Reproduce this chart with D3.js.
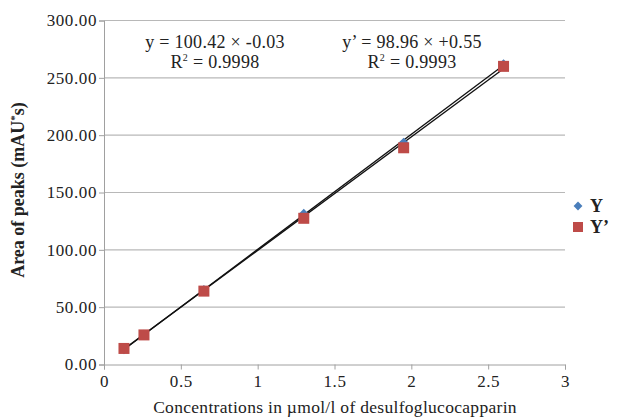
<!DOCTYPE html>
<html>
<head>
<meta charset="utf-8">
<script src="https://cdn.jsdelivr.net/npm/d3@7"></script>
<style>
  body { margin: 0; background: #fff; }
  svg text { font-family: "Times New Roman", "Liberation Serif", Times, serif; }
</style>
</head>
<body>
<div id="chart"></div>
<script>
// concentrations (x) and peak areas for the two series
var conc = [0.13, 0.26, 0.65, 1.3, 1.95, 2.6];
var seriesY = [13.1, 26.0, 65.0, 131.5, 193.5, 262.0];
var seriesY2 = [14.0, 25.8, 64.0, 127.5, 189.0, 260.0];
// trendline coefficients printed on the chart
var slopes = [100.42, 98.96];
var intercepts = [-0.03, 0.55];
var xTicks = [0, 0.5, 1, 1.5, 2, 2.5, 3];
var yTicks = [0, 50, 100, 150, 200, 250, 300];

var serif = "Times New Roman, Liberation Serif, serif";

function init() {
    var w = 626, h = 419;
    var svg = d3.select("#chart").append("svg")
        .attr("width", w)
        .attr("height", h)
        .attr("font-family", serif);

    var x = d3.scaleLinear().domain([0, 3]).range([104, 565]);
    var y = d3.scaleLinear().domain([0, 300]).range([364.5, 20.5]);

    // gridlines
    svg.append("g").selectAll("line")
        .data(yTicks.slice(1))
        .enter().append("line")
        .attr("x1", x(0)).attr("x2", x(3))
        .attr("y1", function (d) { return y(d); })
        .attr("y2", function (d) { return y(d); })
        .attr("stroke", "#b8b8b8").attr("stroke-width", 1.2);

    // axes
    var yAxis = svg.append("g")
        .attr("transform", "translate(" + x(0) + ",0)")
        .call(d3.axisLeft(y).tickValues(yTicks).tickSize(5).tickPadding(2)
            .tickFormat(d3.format(".2f")));
    var xAxis = svg.append("g")
        .attr("transform", "translate(0," + y(0) + ")")
        .call(d3.axisBottom(x).tickValues(xTicks).tickSize(5).tickPadding(3)
            .tickFormat(function (d) { return d; }));
    [yAxis, xAxis].forEach(function (a) {
        a.attr("font-family", serif).attr("font-size", 17);
        a.select(".domain").attr("stroke", "#a0a0a0");
        a.selectAll(".tick line").attr("stroke", "#a0a0a0");
        a.selectAll("text")
            .attr("font-family", serif).attr("font-size", 17)
            .attr("letter-spacing", 0.6).attr("fill", "#222");
    });
    xAxis.selectAll("text").attr("dy", "0.85em");

    // trendlines over the data range
    var xMin = d3.min(conc), xMax = d3.max(conc);
    slopes.forEach(function (m, i) {
        var b = intercepts[i];
        svg.append("line")
            .attr("x1", x(xMin)).attr("y1", y(m * xMin + b))
            .attr("x2", x(xMax)).attr("y2", y(m * xMax + b))
            .attr("stroke", "#111").attr("stroke-width", 1.3);
    });

    // Y series: blue diamonds
    svg.append("g").selectAll("path")
        .data(conc)
        .enter().append("path")
        .attr("d", d3.symbol().type(d3.symbolDiamond2).size(60))
        .attr("transform", function (d, i) {
            return "translate(" + x(d) + "," + y(seriesY[i]) + ")";
        })
        .attr("fill", "#4a7ebb");

    // Y' series: red squares
    svg.append("g").selectAll("rect")
        .data(conc)
        .enter().append("rect")
        .attr("x", function (d) { return x(d) - 5.5; })
        .attr("y", function (d, i) { return y(seriesY2[i]) - 5.5; })
        .attr("width", 11).attr("height", 11)
        .attr("fill", "#be4b48");

    function txt(xp, yp, size) {
        return svg.append("text").attr("x", xp).attr("y", yp)
            .attr("font-family", serif).attr("font-size", size).attr("fill", "#222");
    }

    // equations
    var eq = [
        { cx: 215, l1: "y = 100.42 \u00d7 -0.03", r: "0.9998" },
        { cx: 412, l1: "y\u2019 = 98.96 \u00d7 +0.55", r: "0.9993" }
    ];
    eq.forEach(function (e) {
        txt(e.cx, 48, 18).attr("text-anchor", "middle").attr("letter-spacing", 0.3).text(e.l1);
        var t = txt(e.cx, 68, 18).attr("text-anchor", "middle").attr("letter-spacing", 0.3);
        t.append("tspan").text("R");
        t.append("tspan").attr("dy", -7).attr("font-size", 10).text("2");
        t.append("tspan").attr("dy", 7).text(" = " + e.r);
    });

    // legend
    svg.append("path")
        .attr("d", d3.symbol().type(d3.symbolDiamond2).size(50))
        .attr("transform", "translate(578,206)")
        .attr("fill", "#4a7ebb");
    svg.append("rect").attr("x", 573).attr("y", 222).attr("width", 10).attr("height", 10)
        .attr("fill", "#be4b48");
    txt(590, 212, 18).attr("font-weight", "bold").text("Y");
    txt(590, 233, 18).attr("font-weight", "bold").text("Y\u2019");

    // axis titles
    txt(335, 413, 17.5).attr("text-anchor", "middle").attr("letter-spacing", 0.3)
        .text("Concentrations in \u00b5mol/l of desulfoglucocapparin");
    var yt = svg.append("text")
        .attr("transform", "translate(24,190) rotate(-90)")
        .attr("font-family", serif).attr("font-size", 18).attr("fill", "#222")
        .attr("text-anchor", "middle").attr("font-weight", "bold");
    yt.append("tspan").text("Area of peaks (mAU");
    yt.append("tspan").attr("dy", -6).attr("font-size", 11).text("*");
    yt.append("tspan").attr("dy", 6).text("s)");
}
window.onload = init;
</script>
</body>
</html>
